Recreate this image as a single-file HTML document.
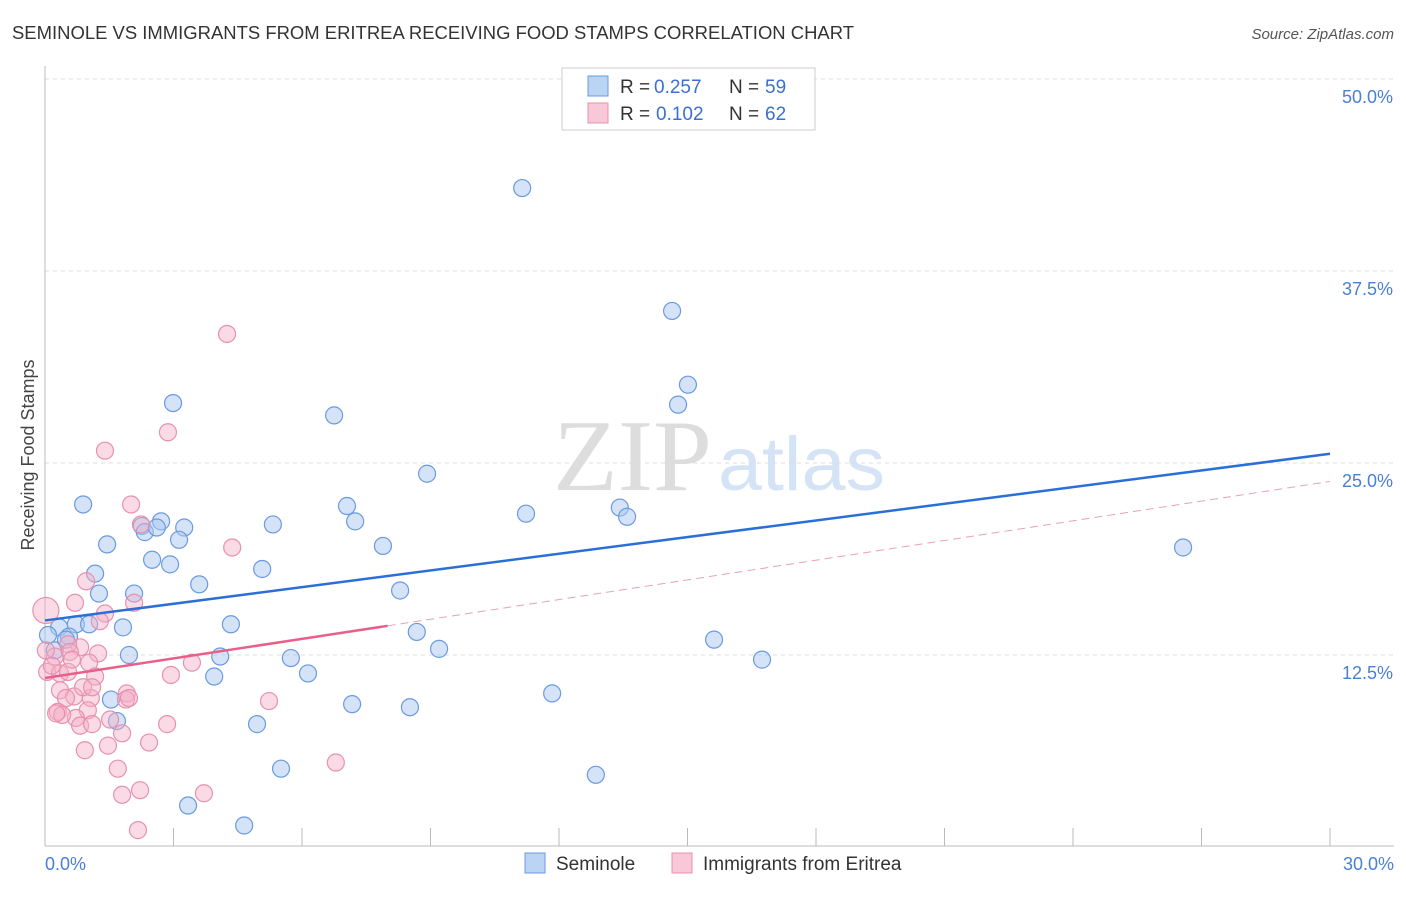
<!DOCTYPE html>
<html><head><meta charset="utf-8"><style>
body{margin:0;background:#fff;font-family:"Liberation Sans",sans-serif;}
svg text{font-family:"Liberation Sans",sans-serif;}
</style></head><body>
<svg id="chart" width="1406" height="892" xmlns="http://www.w3.org/2000/svg">
<text x="12" y="39" font-size="18" fill="#333" textLength="842" lengthAdjust="spacingAndGlyphs">SEMINOLE VS IMMIGRANTS FROM ERITREA RECEIVING FOOD STAMPS CORRELATION CHART</text>
<text x="1394" y="39" font-size="15" fill="#555" text-anchor="end" font-style="italic">Source: ZipAtlas.com</text>
<text x="34" y="455" font-size="18" fill="#444" text-anchor="middle" transform="rotate(-90 34 455)">Receiving Food Stamps</text>
<g><text x="553" y="490" font-size="102" fill="#ddd" style="font-family:'Liberation Serif',serif" textLength="159" lengthAdjust="spacingAndGlyphs">ZIP</text><text x="718" y="490" font-size="76" fill="#d4e3f5" textLength="167" lengthAdjust="spacingAndGlyphs">atlas</text></g>
<g id="grid"></g><g id="pts"></g><g id="lines"></g>
<g>
<rect x="562" y="68" width="253" height="62" fill="#fff" stroke="#ccc"/>
<rect x="588" y="76" width="20" height="20" fill="#bcd4f4" stroke="#6a9ae0"/>
<rect x="588" y="103" width="20" height="20" fill="#f8c8d8" stroke="#e890b0"/>
<text x="620" y="93" font-size="19" fill="#333">R =</text><text x="654" y="93" font-size="19" fill="#3a70d0">0.257</text>
<text x="729" y="93" font-size="19" fill="#333">N =</text><text x="765" y="93" font-size="19" fill="#3a70d0">59</text>
<text x="620" y="120" font-size="19" fill="#333">R =</text><text x="656" y="120" font-size="19" fill="#3a70d0">0.102</text>
<text x="729" y="120" font-size="19" fill="#333">N =</text><text x="765" y="120" font-size="19" fill="#3a70d0">62</text>
</g>
<g>
<rect x="525" y="853" width="20" height="20" fill="#bcd4f4" stroke="#6a9ae0"/>
<text x="556" y="870" font-size="19" fill="#333">Seminole</text>
<rect x="672" y="853" width="20" height="20" fill="#f8c8d8" stroke="#e890b0"/>
<text x="703" y="870" font-size="19" fill="#333">Immigrants from Eritrea</text>
</g>
</svg>
<script>
const yTicks=[12.5,25,37.5,50];
const yTickLabels=["12.5%","25.0%","37.5%","50.0%"];
const xTickLabels=["0.0%","30.0%"];
const seminoleX=[11.14,14.64,15.01,14.78,2.99,6.75,8.92,0.89,7.05,11.23,13.42,13.59,7.24,5.32,3.25,2.71,2.26,2.33,2.61,1.45,3.13,7.89,26.57,2.50,2.92,1.17,5.07,3.60,8.29,2.08,1.26,4.34,1.82,0.72,1.03,0.33,8.68,0.56,15.62,9.20,0.23,1.96,4.09,5.74,16.74,6.14,3.95,11.84,1.54,7.17,8.52,1.68,4.95,5.51,12.86,3.34,4.65,0.07,0.49];
const seminoleY=[42.9,34.9,30.1,28.8,28.9,28.1,24.3,22.3,22.2,21.7,22.1,21.5,21.2,21.0,20.8,21.2,20.9,20.5,20.8,19.7,20.0,19.6,19.5,18.7,18.4,17.8,18.1,17.1,16.7,16.5,16.5,14.5,14.3,14.5,14.5,14.3,14.0,13.7,13.5,12.9,12.8,12.5,12.4,12.3,12.2,11.3,11.1,10.0,9.6,9.3,9.1,8.2,8.0,5.1,4.7,2.7,1.4,13.8,13.5];
const eritreaX=[4.25,2.87,1.40,2.01,2.24,4.37,0.96,0.70,2.08,1.40,1.28,0.02,0.82,0.54,0.23,1.24,1.03,3.43,2.94,0.05,0.35,0.54,1.17,0.35,0.68,1.07,1.91,1.89,5.23,0.49,0.30,1.00,0.72,0.82,1.52,1.10,2.85,1.80,2.43,1.47,0.93,6.79,1.70,2.22,1.80,3.71,2.17,0.40,0.26,0.16,0.58,0.02,0.63,0.89,1.10,1.96];
const eritreaY=[33.4,27.0,25.8,22.3,21.0,19.5,17.3,15.9,15.9,15.2,14.7,15.4,13.0,13.2,12.4,12.6,12.0,12.0,11.2,11.4,11.3,11.4,11.1,10.2,9.8,9.7,10.0,9.6,9.5,9.7,8.8,8.9,8.4,7.9,8.3,8.0,8.0,7.4,6.8,6.6,6.3,5.5,5.1,3.7,3.4,3.5,1.1,8.6,8.7,11.8,12.7,12.8,12.2,10.4,10.4,9.7];
const seminoleTrend=[14.75,25.6];
const eritreaTrend=[11.0,14.4,23.8];
const eritreaSolidEnd=8.0;
const NS="http://www.w3.org/2000/svg";
const X=v=>45+v/30*1285, Y=v=>847-v/12.5*192;
function mk(t,a,p){const e=document.createElementNS(NS,t);for(const k in a)e.setAttribute(k,a[k]);p.appendChild(e);return e;}
const grid=document.getElementById('grid');
yTicks.forEach((t,i)=>{
 const l=mk('line',{x1:45,x2:1394,y1:Y(t),y2:Y(t),stroke:'#ddd','stroke-dasharray':'4 4'},grid);
 
 
 const tx=mk('text',{x:1393,y:Y(t)+24,'font-size':18,fill:'#4a7fd6','text-anchor':'end'},grid);tx.textContent=yTickLabels[i];
 
 
});
const ax=mk('line',{x1:45,x2:45,y1:66,y2:846,stroke:'#bbb'},grid);


const bx=mk('line',{x1:45,x2:1394,y1:846,y2:846,stroke:'#bbb'},grid);


for(let i=1;i<=10;i++){const tk=mk('line',{x1:X(i*3),x2:X(i*3),y1:828,y2:846,stroke:'#bbb'},grid);
 
 }
[[0,'start',45],[30,'end',1394]].forEach((d,i)=>{const t=mk('text',{x:d[2],y:870,'font-size':18,fill:'#4a7fd6','text-anchor':d[1]},grid);t.textContent=xTickLabels[i];
 
 });
const pts=document.getElementById('pts');
seminoleX.forEach((x,i)=>{const c=mk('circle',{cx:X(x),cy:Y(seminoleY[i]),r:8.5,fill:'rgba(170,200,240,0.5)',stroke:'#6a9ae0','stroke-width':1.2},pts);
 
 });
eritreaX.forEach((x,i)=>{const c=mk('circle',{cx:X(x),cy:Y(eritreaY[i]),r:i==11?13:8.5,fill:'rgba(245,175,198,0.45)',stroke:'#e890b0','stroke-width':1.2},pts);
 
 });
const lines=document.getElementById('lines');
const bl=mk('line',{x1:X(0),y1:Y(seminoleTrend[0]),x2:X(30),y2:Y(seminoleTrend[1]),stroke:'#2a6fd8','stroke-width':2.5},lines);


const pl=mk('line',{x1:X(0),y1:Y(eritreaTrend[0]),x2:X(eritreaSolidEnd),y2:Y(eritreaTrend[1]),stroke:'#e8608a','stroke-width':2.5},lines);


const pd=mk('line',{x1:X(eritreaSolidEnd),y1:Y(eritreaTrend[1]),x2:X(30),y2:Y(eritreaTrend[2]),stroke:'#e8a0b8','stroke-width':1,'stroke-dasharray':'8 5'},lines);


</script>
</body></html>
